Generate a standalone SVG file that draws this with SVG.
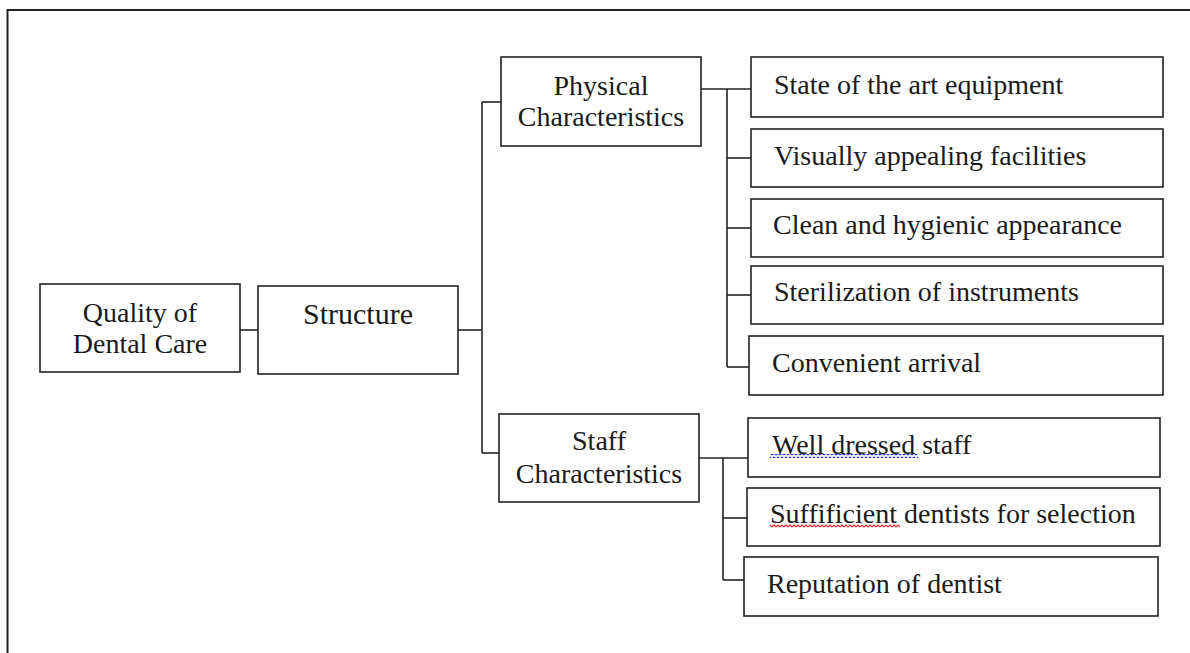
<svg xmlns="http://www.w3.org/2000/svg" width="1190" height="653" viewBox="0 0 1190 653">
<defs>
<style>
.box{fill:#fff;stroke:#222;stroke-width:1.6}
.ln{fill:none;stroke:#222;stroke-width:1.6}
.t{font-family:"Liberation Serif","Times New Roman",serif;font-size:28px;fill:#1a1a1a}
.c{text-anchor:middle}
</style>
<pattern id="wavyB" x="0" y="0" width="4" height="4" patternUnits="userSpaceOnUse"><path d="M0,3 L2,1 L4,3" fill="none" stroke="#2233ee" stroke-width="1.2"/></pattern>
<pattern id="wavyR" x="0" y="0" width="4" height="4" patternUnits="userSpaceOnUse"><path d="M0,3 L2,1 L4,3" fill="none" stroke="#ee2222" stroke-width="1.2"/></pattern>
</defs>
<rect width="1190" height="653" fill="#fff"/>
<path d="M7.5,653 V10 H1190" fill="none" stroke="#222" stroke-width="2"/>
<g id="connectors">
<path class="ln" d="M240,330 H258"/>
<path class="ln" d="M458,330 H482"/>
<path class="ln" d="M482,102 V453"/>
<path class="ln" d="M482,102 H501"/>
<path class="ln" d="M482,453 H499"/>
<path class="ln" d="M701,89 H751"/>
<path class="ln" d="M727,89 V367"/>
<path class="ln" d="M727,158 H751"/>
<path class="ln" d="M727,228 H751"/>
<path class="ln" d="M727,295 H751"/>
<path class="ln" d="M727,367 H749"/>
<path class="ln" d="M699,458 H748"/>
<path class="ln" d="M723,458 V580"/>
<path class="ln" d="M723,518 H747"/>
<path class="ln" d="M723,580 H744"/>
</g>
<g id="quality"><rect class="box" x="40" y="284" width="200" height="88"/><text class="t c" x="140" y="322">Quality of</text><text class="t c" x="140" y="353">Dental Care</text></g>
<g id="structure"><rect class="box" x="258" y="286" width="200" height="88"/><text class="t c" x="358" y="324" style="font-size:30px">Structure</text></g>
<g id="physical"><rect class="box" x="501" y="57" width="200" height="89"/><text class="t c" x="601" y="95">Physical</text><text class="t c" x="601" y="126">Characteristics</text></g>
<g id="staff"><rect class="box" x="499" y="414" width="200" height="88"/><text class="t c" x="599" y="450">Staff</text><text class="t c" x="599" y="483">Characteristics</text></g>
<g id="p1"><rect class="box" x="751" y="57" width="412" height="60"/><text class="t" x="774" y="94">State of the art equipment</text></g>
<g id="p2"><rect class="box" x="751" y="129" width="412" height="58"/><text class="t" x="774" y="165">Visually appealing facilities</text></g>
<g id="p3"><rect class="box" x="751" y="199" width="412" height="58"/><text class="t" x="773" y="234">Clean and hygienic appearance</text></g>
<g id="p4"><rect class="box" x="751" y="266" width="412" height="58"/><text class="t" x="774" y="301">Sterilization of instruments</text></g>
<g id="p5"><rect class="box" x="749" y="336" width="414" height="59"/><text class="t" x="772" y="372">Convenient arrival</text></g>
<g id="s1"><rect class="box" x="748" y="418" width="412" height="59"/><text class="t" x="772" y="454">Well dressed staff</text><rect x="770" y="454" width="148" height="4" fill="url(#wavyB)"/></g>
<g id="s2"><rect class="box" x="747" y="488" width="413" height="58"/><text class="t" x="770" y="523">Suffificient dentists for selection</text><rect x="770" y="524" width="130" height="4" fill="url(#wavyR)"/></g>
<g id="s3"><rect class="box" x="744" y="557" width="414" height="59"/><text class="t" x="767" y="593">Reputation of dentist</text></g>
</svg>
